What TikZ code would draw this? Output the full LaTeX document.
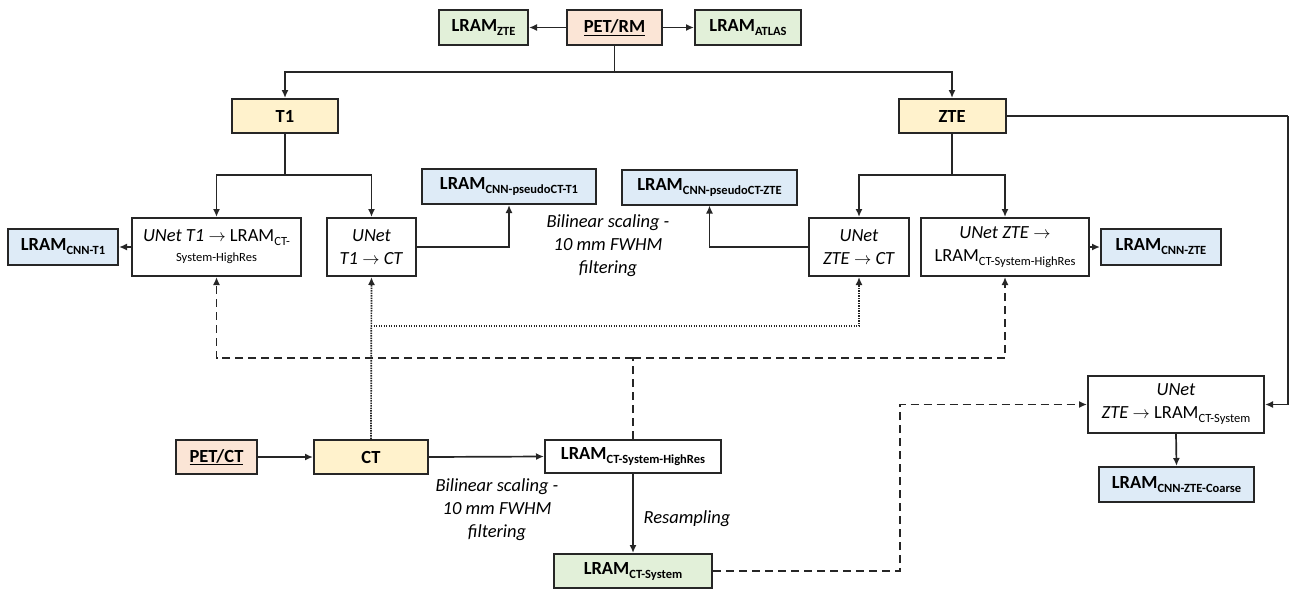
\documentclass[tikz,border=0pt]{standalone}
\usepackage{fontspec}
\setmainfont{Carlito}
\usetikzlibrary{arrows.meta}
\definecolor{peach}{HTML}{FBE5D6}
\definecolor{lgreen}{HTML}{E2F0D9}
\definecolor{lblue}{HTML}{DEEBF7}
\definecolor{lyellow}{HTML}{FFF2CC}
\newcommand\lsub[1]{\raisebox{-0.45ex}{\fontsize{12.5}{13}\selectfont #1}}
\begin{document}
\begin{tikzpicture}[x=1pt,y=-1pt,
  font=\fontsize{18.5}{23}\selectfont,
  box/.style={draw=black!85, line width=2pt, inner sep=0pt, align=center},
  tbox/.style={box, font=\fontsize{18.5}{23}\selectfont\bfseries},
  conn/.style={line width=1.7pt, draw=black!85},
  tip/.style={-{Latex[length=8pt,width=7pt]}},
  arr/.style={conn, tip},
  dsh/.style={dash pattern=on 8pt off 5pt},
  dtt/.style={dash pattern=on 1.3pt off 1.2pt},
  lbl/.style={font=\fontsize{18.5}{23}\selectfont\itshape, align=center}]
\useasboundingbox (0,0) rectangle (1289,592);
% top row
\node[tbox, fill=lgreen, minimum width=89pt, minimum height=35pt] (lzte) at (483.5,27.5) {LRAM\lsub{ZTE}};
\node[tbox, fill=peach, minimum width=95pt, minimum height=35pt] (petrm) at (614.5,27.5) {\underline{PET/RM}};
\node[tbox, fill=lgreen, minimum width=106pt, minimum height=35pt] (latlas) at (748,27.5) {LRAM\lsub{ATLAS}};
% T1 / ZTE
\node[tbox, fill=lyellow, minimum width=106pt, minimum height=34pt] (t1) at (285,116) {T1};
\node[tbox, fill=lyellow, minimum width=107pt, minimum height=34pt] (zte) at (952,116) {ZTE};
% UNet row
\node[box, minimum width=169pt, minimum height=58pt] (unett1) at (216.5,247) {\textit{UNet T1} $\rightarrow$ LRAM\lsub{CT-}\\[-3pt]{\fontsize{12.5}{13}\selectfont System-HighRes}};
\node[box, minimum width=89pt, minimum height=58pt] (unett1ct) at (371.5,247) {\textit{UNet}\\\textit{T1} $\rightarrow$ \textit{CT}};
\node[tbox, fill=lblue, minimum width=110pt, minimum height=36pt] (cnnt1) at (63,247) {LRAM\lsub{CNN-T1}};
\node[tbox, fill=lblue, minimum width=174pt, minimum height=35pt] (pseudot1) at (509,186.5) {LRAM\lsub{CNN-pseudoCT-T1}};
\node[tbox, fill=lblue, minimum width=175pt, minimum height=35pt] (pseudozte) at (709.5,187) {LRAM\lsub{CNN-pseudoCT-ZTE}};
\node[box, minimum width=100pt, minimum height=58pt] (unetztect) at (859,247) {\textit{UNet}\\\textit{ZTE} $\rightarrow$ \textit{CT}};
\node[box, minimum width=168pt, minimum height=58pt] (unetzte) at (1005,247) {\textit{UNet ZTE} $\rightarrow$\\LRAM\lsub{CT-System-HighRes}};
\node[tbox, fill=lblue, minimum width=120pt, minimum height=36pt] (cnnzte) at (1161,247) {LRAM\lsub{CNN-ZTE}};
% bottom
\node[tbox, fill=peach, minimum width=81pt, minimum height=34pt] (petct) at (216.5,457) {\underline{PET/CT}};
\node[tbox, fill=lyellow, minimum width=114pt, minimum height=34pt] (ct) at (371,457) {CT};
\node[tbox, fill=white, minimum width=176pt, minimum height=33pt] (highres) at (633,456.5) {LRAM\lsub{CT-System-HighRes}};
\node[tbox, fill=lgreen, minimum width=158pt, minimum height=34pt] (ctsys) at (633,571) {LRAM\lsub{CT-System}};
\node[box, minimum width=176pt, minimum height=57pt] (unetcoarse) at (1176,404.5) {\textit{UNet}\\\textit{ZTE} $\rightarrow$ LRAM\lsub{CT-System}};
\node[tbox, fill=lblue, minimum width=155pt, minimum height=35pt] (coarse) at (1176.5,484.5) {LRAM\lsub{CNN-ZTE-Coarse}};
% labels
\node[lbl] (bil1) at (608,246) {Bilinear scaling -\\10 mm FWHM\\filtering};
\node[lbl] (bil2) at (497,510) {Bilinear scaling -\\10 mm FWHM\\filtering};
\node[lbl, anchor=west] (resamp) at (640,519) {Resampling};
% coordinates
\coordinate (split) at (614.5,72);
\coordinate (t1s) at (285,175);
\coordinate (ztes) at (952,175);
\coordinate (zr) at (1288,116);
\coordinate (dotj) at (371,326);
\coordinate (dj) at (633,358);
\coordinate (cs) at (900,571);
% top connectors
\draw[arr] (petrm.west) -- (lzte.east);
\draw[arr] (petrm.east) -- (latlas.west);
\draw[conn] (petrm.south) -- (split);
\draw[arr] (split) -| (t1.north);
\draw[arr] (split) -| (zte.north);
\draw[conn] (t1.south) -- (t1s);
\draw[arr] (t1s) -| (unett1.north);
\draw[arr] (t1s) -| (unett1ct.north);
\draw[conn] (zte.south) -- (ztes);
\draw[arr] (ztes) -| (unetztect.north);
\draw[arr] (ztes) -| (unetzte.north);
\draw[arr] (unett1.west) -- (cnnt1.east);
\draw[arr] (unett1ct.east) -| (pseudot1.south);
\draw[arr] (unetztect.west) -| (pseudozte.south);
\draw[arr] (unetzte.east) -- (cnnzte.west);
\draw[conn] (zte.east) -- (zr);
\draw[arr] (zr) |- (unetcoarse.east);
\draw[arr] (unetcoarse.south) -- (coarse.north);
% bottom connectors
\draw[arr] (petct.east) -- (ct.west);
\draw[arr] (ct.east) -- (highres.west);
\draw[arr] (highres.south) -- (ctsys.north);
% dotted
\draw[conn, dtt, tip] (ct.north) -- (unett1ct.south);
\draw[conn, dtt, tip] (dotj) -| (unetztect.south);
% dashed
\draw[conn, dsh] (highres.north) -- (dj);
\draw[conn, dsh, tip] (dj) -| (unett1.south);
\draw[conn, dsh, tip] (dj) -| (unetzte.south);
\draw[conn, dsh, tip] (ctsys.east) -- (cs) |- (unetcoarse.west);
\end{tikzpicture}
\end{document}
